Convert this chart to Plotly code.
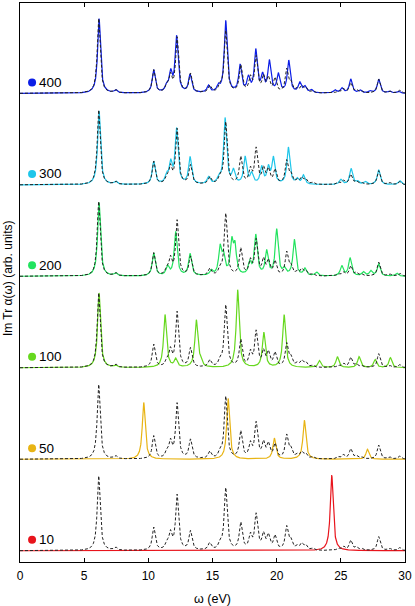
import numpy as np
import plotly.graph_objects as go

# Peak positions (eV) and heights (arb. units)
ref_pos = [6.13, 7.45, 10.42, 11.45, 11.72, 12.24, 13.28, 14.78, 15.6, 16.03, 17.2, 17.95, 18.4,
           18.97, 19.35, 19.87, 20.78, 21.1, 21.6, 21.95, 22.25, 22.8, 24.8, 25.2, 25.77, 26.2,
           26.6, 27.95, 28.8, 29.6]
ref_h = [75, 3, 23, 6, 16, 55, 19, 7, 6, 62, 27, 14, 35, 15, 14, 14, 23, 9, 4, 6, 5, 2, 2, 4,
         10, 3, 2, 14, 2, 3]

p400_pos = [6.16, 7.45, 10.42, 11.43, 11.74, 12.2, 13.25, 14.68, 15.45, 16.03, 17.15, 17.8, 18.37,
            18.9, 19.43, 20.13, 20.94, 21.8, 22.2, 22.7, 24.55, 25.08, 25.77, 26.5, 27.3, 27.95,
            28.8, 29.5]
p400_h = [75, 3, 23, 6, 19, 56, 18, 7, 6, 72, 27, 14, 42, 16, 31, 18, 32, 10, 6, 3, 3, 5, 14, 3,
          2, 14, 2, 2]

p300_pos = [6.16, 7.45, 10.42, 11.43, 11.74, 12.2, 13.25, 14.7, 15.5, 15.98, 16.63, 17.54, 18.05,
            18.83, 19.35, 19.74, 20.91, 21.6, 22.08, 25.0, 25.8, 26.3, 26.9, 27.95, 29.6]
p300_h = [74, 3, 23, 8, 20, 55, 27, 7, 6, 66, 13, 27, 10, 17, 16, 26, 37, 5, 9, 5, 16, 3, 3, 15, 4]

p200_pos = [6.16, 7.45, 10.42, 11.5, 12.13, 13.25, 14.9, 15.59, 15.85, 16.5, 16.75, 17.9, 18.37,
            19.22, 20.0, 20.6, 21.38, 22.2, 23.1, 25.07, 25.72, 26.76, 27.33, 27.95, 29.36]
p200_h = [74, 3, 23, 9, 44, 22, 5, 27, 18, 32, 27, 12, 40, 24, 46, 6, 36, 7, 4, 10, 18, 4, 5, 12, 3]

p100_pos = [6.16, 7.45, 11.3, 12.13, 13.74, 14.05, 16.96, 19.0, 20.58, 23.33, 24.73, 26.42, 27.67,
            28.86]
p100_h = [75, 2, 53, 8, 47, 5, 78, 35, 53, 7, 11, 11, 8, 10]

p50_pos = [9.64, 16.22, 19.82, 22.16, 27.07]
p50_h = [57, 61, 21, 39, 10]

p10_pos = [24.29]
p10_h = [76]

labels = ["10", "50", "100", "200", "300", "400"]
colors = ["#e8141c", "#e8b414", "#66d81e", "#22e35e", "#1ec6ea", "#0c1ee6"]
series = [(p10_pos, p10_h), (p50_pos, p50_h), (p100_pos, p100_h),
          (p200_pos, p200_h), (p300_pos, p300_h), (p400_pos, p400_h)]

OFFSET = 91.8
GAMMA = 0.135
x = np.linspace(0, 30, 3001)


def spectrum(pos, h):
    y = np.zeros_like(x)
    for p, a in zip(pos, h):
        y += a * GAMMA**2 / ((x - p) ** 2 + GAMMA**2)
    return y


ref = spectrum(ref_pos, ref_h)

fig = go.Figure()
for i, (lab, col, (pos, h)) in enumerate(zip(labels, colors, series)):
    base = i * OFFSET
    fig.add_trace(go.Scatter(x=x, y=spectrum(pos, h) + base, mode="lines",
                             line=dict(color=col, width=1.2), hoverinfo="skip"))
    fig.add_trace(go.Scatter(x=x, y=ref + base, mode="lines",
                             line=dict(color="#222222", width=1, dash="3px,2px"), hoverinfo="skip"))
    fig.add_trace(go.Scatter(x=[0.94], y=[base + 11], mode="markers",
                             marker=dict(color=col, size=8), hoverinfo="skip"))
    fig.add_annotation(x=1.3, y=base + 11, text=lab, showarrow=False, xanchor="left",
                       yanchor="middle", font=dict(size=13.5, color="black"))

fig.add_annotation(xref="paper", yref="paper", x=-0.031, y=0.508, text="Im Tr α(ω) (arb. units)",
                   textangle=-90, showarrow=False, xanchor="center", yanchor="middle",
                   font=dict(size=12, color="black"))

fig.update_layout(
    width=415, height=606,
    margin=dict(l=20, r=10, t=2, b=43),
    paper_bgcolor="white", plot_bgcolor="white",
    showlegend=False,
    font=dict(family="Liberation Sans, Arial, sans-serif", size=12, color="black"),
    xaxis=dict(range=[0, 30], tickvals=[0, 5, 10, 15, 20, 25, 30], ticks="inside", ticklen=4,
               tickcolor="black", showline=True, linecolor="black", linewidth=1, mirror="allticks",
               ticklabelstandoff=3,
               showgrid=False, zeroline=False, title=dict(text="ω (eV)", standoff=12,
                                                          font=dict(size=12.5))),
    yaxis=dict(range=[-11.3, 549.7], showticklabels=False, ticks="", showline=True,
               linecolor="black", linewidth=1, mirror=True, showgrid=False, zeroline=False),
)

fig.write_html("out.html", config={"displayModeBar": False},
               post_script="document.body.style.margin='0px';")
